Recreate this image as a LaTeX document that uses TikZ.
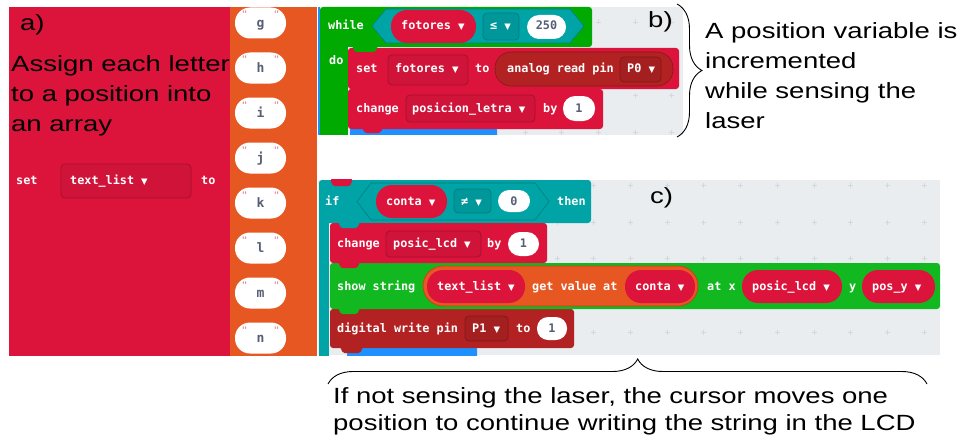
\documentclass[tikz,border=0pt]{standalone}
\usepackage{fontspec}
\setmainfont{Liberation Sans}
\newfontfamily\notefont[FakeStretch=1.25]{Liberation Sans}
\newfontfamily\codefont{DejaVu Sans Mono}
\newfontfamily\symfont{DejaVu Sans}
\usepackage{tikz}
\usetikzlibrary{decorations.pathreplacing}

% block palette
\definecolor{varred}{HTML}{DC143C}
\definecolor{varfield}{HTML}{CF1339}
\definecolor{varedge}{HTML}{A80F2E}
\definecolor{arrorange}{HTML}{E65722}
\definecolor{arredge}{HTML}{C4441A}
\definecolor{logicteal}{HTML}{00A4A6}
\definecolor{tealfield}{HTML}{00979A}
\definecolor{tealedge}{HTML}{007F81}
\definecolor{loopgreen}{HTML}{00AA00}
\definecolor{lcdgreen}{HTML}{12B820}
\definecolor{pinred}{HTML}{B22222}
\definecolor{pinfield}{HTML}{A41F1F}
\definecolor{pinedge}{HTML}{861818}
\definecolor{basicblue}{HTML}{1E90FF}
\definecolor{workspace}{HTML}{E9EDF0}
\definecolor{gridmark}{HTML}{D3D8DC}
\definecolor{strtext}{HTML}{575E75}
\definecolor{quotemark}{HTML}{E58C99}

\newcommand\droparrow{{\symfont\fontsize{8.5}{8.5}\selectfont ▼}}

\begin{document}
\begin{tikzpicture}[x=1pt, y=-1pt,
    code/.style={font={\codefont\bfseries\fontsize{11.8}{12}\selectfont}, text=white,
        inner sep=0pt, text height=8.5pt, text depth=2.5pt, anchor=west},
    note/.style={font={\notefont\fontsize{22}{30}\selectfont}, inner sep=0pt,
        anchor=base west, align=left},
    field/.style={rounded corners=4pt, line width=0.8pt},
    tab/.style={rounded corners=1.5pt},
    gridplus/.style={gridmark, line width=0.8pt},
    curly/.style={decorate, line width=0.9pt, decoration={brace, amplitude=#1}}]
    \useasboundingbox (0,0) rectangle (960,444);

    % a) array of letters
    \fill[varred] (9,7) rectangle (230,356);
    \fill[arrorange] (230,7) rectangle (317,356);
    \node[note] (lblA) at (20,31) {a)};
    % multi-line notes sit on the baseline of their last line
    \node[note] (noteA) at (11,131.5) {Assign each letter\\to a position into\\an array};
    \node[code] (setA) at (16,181) {set};
    \filldraw[field, fill=varfield, draw=varedge] (61,164) rectangle (191,198);
    \node[code] (listA) at (70,181) {text\_list \droparrow};
    \node[code] (toA) at (201,181) {to};
    \foreach \ch [count=\i from 0] in {g,h,i,j,k,l,m,n} {
        \pgfmathsetmacro\yc{23+45*\i}
        \fill[white, rounded corners=15pt] (235,\yc-15.5) rectangle (286,\yc+15.5);
        \node[code, anchor=center, text=strtext, font={\codefont\bfseries\fontsize{13}{13}\selectfont}] (let\i) at (260.5,\yc+1.5) {\ch};
        \node[code, text=quotemark, anchor=center, font={\codefont\bfseries\fontsize{9}{9}\selectfont}] (ql\i) at (244.5,\yc-8) {"};
        \node[code, text=quotemark, anchor=center, font={\codefont\bfseries\fontsize{9}{9}\selectfont}] (qr\i) at (276.5,\yc-8) {"};
    }

    % b) while loop
    \fill[workspace] (318,7) rectangle (683,135);
    \foreach \gx in {341,378,414,451,488,525,561,598,635,671}
        \foreach \gy in {22,59,95,132}
            \draw[gridplus] (\gx-2.5,\gy) -- (\gx+2.5,\gy) (\gx,\gy-2.5) -- (\gx,\gy+2.5);
    \fill[basicblue] (318,7) rectangle (320,135);
    \fill[loopgreen, rounded corners=3pt] (320,7) rectangle (592,47);
    \fill[loopgreen] (320,20) rectangle (348,135);
    \node[code] (whileB) at (328,27) {while};
    \filldraw[fill=logicteal, draw=tealedge, line width=0.6pt]
        (372,26) -- (386,9) -- (570,9) -- (584,26) -- (570,43) -- (386,43) -- cycle;
    \fill[varred, rounded corners=16pt] (391,10) rectangle (476,43);
    \node[code] (fotB) at (401,27) {fotores \droparrow};
    \filldraw[field, fill=tealfield, draw=tealedge] (483,13) rectangle (519,40);
    \node[code] (leB) at (490,27) {≤ \droparrow};
    \fill[white, rounded corners=12pt] (527,15) rectangle (566,39);
    \node[code, text=strtext, anchor=center] (limB) at (546.5,27) {250};
    \node[code] (doB) at (329,61) {do};
    \fill[basicblue, rounded corners=3pt] (350,127) rectangle (497,138);
    \fill[varred, rounded corners=3pt] (348,48) rectangle (679,89);
    \fill[loopgreen, tab] (352,46) -- (355,52) -- (375,52) -- (378,46) -- cycle;
    \node[code] (setB) at (356,70) {set};
    \filldraw[field, fill=varfield, draw=varedge] (388,55) rectangle (468,85);
    \node[code] (fot2B) at (395,70) {fotores \droparrow};
    \node[code] (toB) at (475,70) {to};
    \filldraw[fill=pinred, draw=pinedge, line width=0.6pt, rounded corners=16pt] (495,52) rectangle (673,86);
    \node[code] (readB) at (507,70) {analog read pin};
    \filldraw[field, fill=pinfield, draw=pinedge] (620,57) rectangle (661,82);
    \node[code] (pinB) at (627,70) {P0 \droparrow};
    \fill[varred, rounded corners=3pt] (348,89) rectangle (603,129);
    \fill[varred, tab] (362,128) -- (365,133) -- (380,133) -- (383,128) -- cycle;
    \node[code] (chgB) at (356,109) {change};
    \filldraw[field, fill=varfield, draw=varedge] (406,95) rectangle (535,122);
    \node[code] (posB) at (412,109) {posicion\_letra \droparrow};
    \node[code] (byB) at (543,109) {by};
    \fill[white, rounded corners=12pt] (563,96) rectangle (595,121);
    \node[code, text=strtext, anchor=center] (oneB) at (579,109) {1};
    \fill[white] (318,135) rectangle (700,140);
    \node[note] (lblB) at (648,28) {b)};

    % c) if block
    \fill[workspace] (318,180) rectangle (940,355);
    \foreach \gx in {336,373,410,447,483,520,557,593,630,667,703,740,777,814,850,887,924}
        \foreach \gy in {185,222,258,295,332}
            \draw[gridplus] (\gx-2.5,\gy) -- (\gx+2.5,\gy) (\gx,\gy-2.5) -- (\gx,\gy+2.5);
    \node[note] (lblC) at (650,203) {c)};
    \fill[logicteal, rounded corners=3pt] (319,180) rectangle (591,223);
    \fill[logicteal] (319,200) rectangle (329,357);
    \fill[varred, tab] (330,179) -- (333,186) -- (350,186) -- (353,179) -- cycle;
    \node[code] (ifC) at (325,202) {if};
    \filldraw[fill=logicteal, draw=tealedge, line width=0.6pt]
        (357,201.5) -- (371,183) -- (535,183) -- (549,201.5) -- (535,220) -- (371,220) -- cycle;
    \fill[varred, rounded corners=16pt] (376,185) rectangle (447,218);
    \node[code] (contaC) at (386,202) {conta \droparrow};
    \filldraw[field, fill=tealfield, draw=tealedge] (454,189) rectangle (491,213);
    \node[code] (neC) at (461,202) {≠ \droparrow};
    \fill[white, rounded corners=11pt] (498,190) rectangle (530,212);
    \node[code, text=strtext, anchor=center] (zeroC) at (514,202) {0};
    \node[code] (thenC) at (557,202) {then};
    % statements inside
    \fill[basicblue, rounded corners=3pt] (347,346) rectangle (477,360);
    \fill[pinred, rounded corners=3pt] (330,309) rectangle (574,348);
    \fill[lcdgreen, rounded corners=3pt] (330,263) rectangle (940,309);
    \fill[varred, rounded corners=3pt] (330,223) rectangle (547,263);
    \fill[logicteal, tab] (338,222) -- (341,228) -- (357,228) -- (360,222) -- cycle;
    \fill[varred, tab] (338,262) -- (341,268) -- (357,268) -- (360,262) -- cycle;
    \fill[lcdgreen, tab] (338,308) -- (341,314) -- (357,314) -- (360,308) -- cycle;
    \fill[pinred, tab] (340,347) -- (343,353) -- (360,353) -- (363,347) -- cycle;
    \fill[white] (318,356) rectangle (960,362);
    \node[code] (chgC) at (337,244) {change};
    \filldraw[field, fill=varfield, draw=varedge] (386,231) rectangle (481,257);
    \node[code] (lcdC) at (393,244) {posic\_lcd \droparrow};
    \node[code] (byC) at (487,244) {by};
    \fill[white, rounded corners=12pt] (508,232) rectangle (539,256);
    \node[code, text=strtext, anchor=center] (oneC) at (523.5,244) {1};
    \node[code] (showC) at (337,287) {show string};
    \filldraw[fill=arrorange, draw=arredge, line width=0.8pt, rounded corners=20pt] (423,266) rectangle (698,306);
    \fill[varred, rounded corners=16pt] (427,270) rectangle (525,303);
    \node[code] (listC) at (437,287) {text\_list \droparrow};
    \node[code] (getC) at (532,287) {get value at};
    \fill[varred, rounded corners=16pt] (625,270) rectangle (695,303);
    \node[code] (conta2C) at (635,287) {conta \droparrow};
    \node[code] (atxC) at (707,287) {at x};
    \fill[varred, rounded corners=16pt] (742,270) rectangle (842,303);
    \node[code] (lcd2C) at (752,287) {posic\_lcd \droparrow};
    \node[code] (yC) at (849,287) {y};
    \fill[varred, rounded corners=16pt] (862,270) rectangle (935,303);
    \node[code] (posyC) at (872,287) {pos\_y \droparrow};
    \node[code] (pinC) at (337,329) {digital write pin};
    \filldraw[field, fill=pinfield, draw=pinedge] (465,316) rectangle (508,341);
    \node[code] (p1C) at (472,329) {P1 \droparrow};
    \node[code] (toC) at (516,329) {to};
    \fill[white, rounded corners=11pt] (537,317) rectangle (567,340);
    \node[code, text=strtext, anchor=center] (one2C) at (552,329) {1};

    % notes and braces
    \coordinate (braceBtop) at (677,4);
    \coordinate (braceBbot) at (677,137);
    \draw[curly=25pt] (braceBtop) -- (braceBbot);
    \node[note] (noteB) at (705,128.3) {A position variable is\\incremented\\while sensing the\\laser};
    \coordinate (braceCleft) at (328,384);
    \coordinate (braceCright) at (927,384);
    \draw[curly=25pt, decoration={aspect=0.517}] (braceCleft) -- (braceCright);
    \node[note, font={\notefont\fontsize{22}{27.4}\selectfont}] (noteC) at (333,430.4)
        {If not sensing the laser, the cursor moves one\\position to continue writing the string in the LCD};
\end{tikzpicture}
\end{document}
